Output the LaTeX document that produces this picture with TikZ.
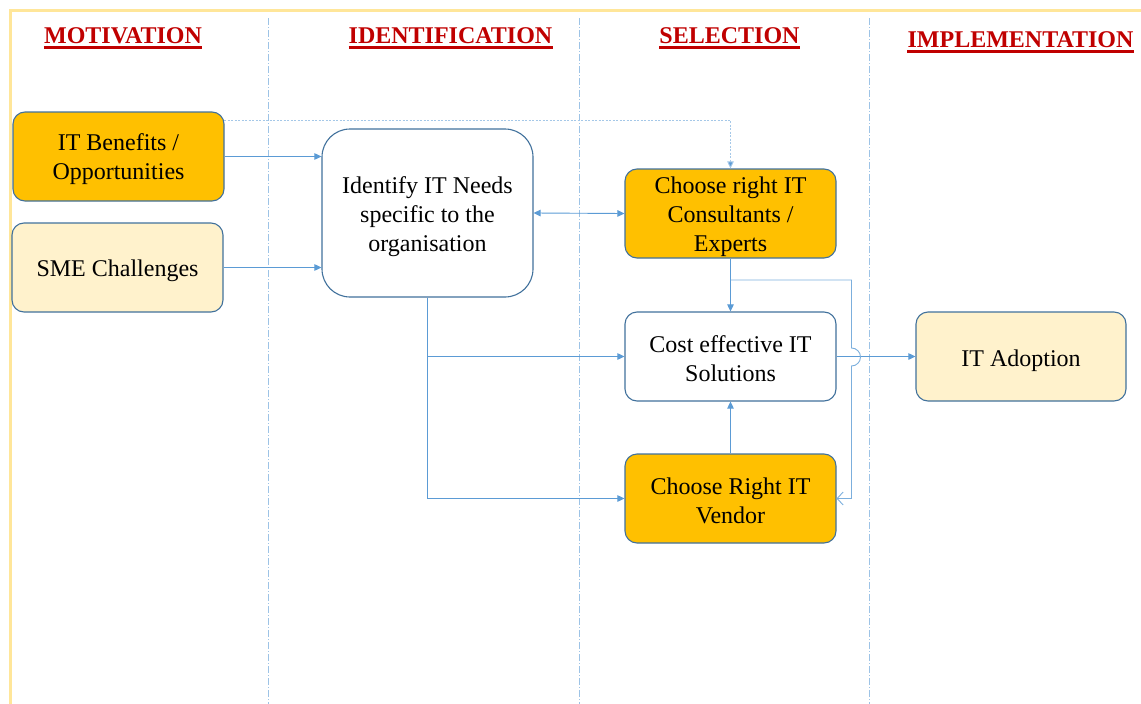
\documentclass[tikz,border=0pt]{standalone}
\usepackage{fontspec}
\setmainfont{Liberation Serif}
\usetikzlibrary{arrows.meta}
\definecolor{frameY}{HTML}{FFE699}
\definecolor{divB}{HTML}{9DC3E6}
\definecolor{lineB}{HTML}{5B9BD5}
\definecolor{edgeB}{HTML}{41719C}
\definecolor{gold}{HTML}{FFC000}
\definecolor{cream}{HTML}{FFF2CC}
\definecolor{hdr}{HTML}{C00000}
\tikzset{
  box/.style={draw=edgeB, line width=1.1pt, rounded corners=12pt, minimum width=211pt, minimum height=89pt, inner sep=0pt},
  goldbox/.style={box, fill=gold},
  creambox/.style={box, fill=cream},
  whitebox/.style={box, fill=white},
  txt/.style={align=center, inner sep=0pt, font=\fontsize{24}{29}\selectfont, text=black},
  hdrtext/.style={anchor=base, inner sep=0pt, text=hdr, font=\fontsize{24}{28}\selectfont\bfseries},
  hdrline/.style={draw=hdr, line width=2.3pt},
  divider/.style={draw=lineB!60, line width=0.8pt, dash pattern=on 7pt off 2pt on 1pt off 2pt},
  arr/.style={draw=lineB, line width=0.9pt, -{Triangle[length=7pt,width=6.5pt]}},
  darr/.style={draw=lineB, line width=0.9pt, {Triangle[length=7pt,width=6.5pt]}-{Triangle[length=7pt,width=6.5pt]}},
  dotarr/.style={draw=lineB!55, line width=0.9pt, dash pattern=on 2pt off 1.5pt, -{Triangle[length=7pt,width=6.5pt,fill=lineB]}},
  fbarr/.style={draw=lineB!80, line width=0.9pt, -{Straight Barb[length=6pt,width=13pt]}},
}
\begin{document}
\begin{tikzpicture}[x=1pt,y=-1pt]
\useasboundingbox (0,0) rectangle (1141,704);
% frame
\draw[frameY, line width=2.5pt] (10.5,704) -- (10.5,10.5) -- (1141,10.5);
% dividers
\draw[divider] (268,18) -- (268,704);
\draw[divider] (579,18) -- (579,704);
\draw[divider] (869,18) -- (869,704);
% headers
\node[hdrtext] (h1) at (123,43) {MOTIVATION};
\node[hdrtext] (h2) at (450.5,43) {IDENTIFICATION};
\node[hdrtext] (h3) at (729.5,43) {SELECTION};
\node[hdrtext] (h4) at (1020.5,47) {IMPLEMENTATION};
\foreach \h in {h1,h2,h3,h4}{
  \draw[hdrline] ([yshift=-4.5pt]\h.base west) -- ([yshift=-4.5pt]\h.base east);
}
% boxes
\node[goldbox] (itb) at (118.5,156.5) {};
\node[creambox] (sme) at (117.5,267.5) {};
\node[whitebox, minimum height=168pt, rounded corners=28pt] (need) at (427.5,213) {};
\node[goldbox] (cons) at (730.5,213.5) {};
\node[whitebox] (cost) at (730.5,356.5) {};
\node[goldbox] (vend) at (730.5,498.5) {};
\node[creambox, minimum width=210pt] (adopt) at (1021,356.5) {};
% texts
\node[txt] (itbT) at ([yshift=-3pt]itb.center) {IT Benefits /\\Opportunities};
\node[txt] (smeT) at ([yshift=-3pt]sme.center) {SME Challenges};
\node[txt] (needT) at ([yshift=-4pt]need.center) {Identify IT Needs\\specific to the\\organisation};
\node[txt] (consT) at ([yshift=-3.5pt]cons.center) {Choose right IT\\Consultants /\\Experts};
\node[txt] (costT) at ([yshift=-2pt]cost.center) {Cost effective IT\\Solutions};
\node[txt] (vendT) at ([yshift=-2.5pt]vend.center) {Choose Right IT\\Vendor};
\node[txt] (adoptT) at ([yshift=-4pt]adopt.center) {IT Adoption};
% connectors
\draw[arr] (itb.east) -- (need.west |- itb.east);
\draw[arr] (sme.east) -- (need.west |- sme.east);
\draw[darr] (need.east) -- (cons.west);
\coordinate (d0) at (224,120);
\draw[dotarr] (d0) -| (cons.north);
\draw[arr] (need.south) |- (cost.west);
\draw[arr] (need.south) |- (vend.west);
\draw[arr] (cons.south) -- (cost.north);
\draw[arr] (vend.north) -- (cost.south);
\draw[arr] (cost.east) -- (adopt.west);
\coordinate (b1) at (730.5,280);
\coordinate (b2) at (851.5,280);
\coordinate (b3) at (851.5,348);
\coordinate (b4) at (851.5,498.5);
\draw[fbarr] (b1) -- (b2) -- (b3) arc[start angle=-90, end angle=90, radius=9] -- (b4) -- (vend.east);
\end{tikzpicture}
\end{document}
